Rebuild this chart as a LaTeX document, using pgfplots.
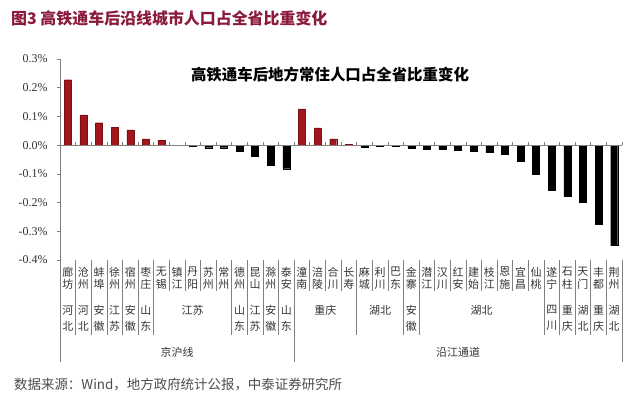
\documentclass[border=0pt]{standalone}
\usepackage{pgfplots}
\pgfplotsset{compat=1.18}
\usepackage{fontspec}
\setmainfont{Liberation Serif}
\newfontfamily\cjk{Noto Sans CJK SC}
\definecolor{barred}{HTML}{A3161E}
\definecolor{baredge}{HTML}{7A0F14}
\definecolor{headred}{HTML}{8B1A3C}
\definecolor{lblgray}{HTML}{333333}
\definecolor{axgray}{HTML}{808080}
\begin{document}
\begin{tikzpicture}
\path[use as bounding box] (0,0) rectangle (640bp,403bp);
\begin{axis}[
  at={(60bp,143bp)}, anchor=south west,
  scale only axis, width=562bp, height=201bp,
  xmin=0.5, xmax=36.5, ymin=-0.4, ymax=0.3,
  clip=false,
  axis x line=bottom, axis y line=left,
  x axis line style={draw=none},
  y axis line style={draw=axgray, line width=0.6bp, -},
  ytick={-0.4,-0.3,-0.2,-0.1,0,0.1,0.2,0.3},
  ytick style={draw=axgray, line width=0.6bp},
  xtick style={draw=none},
  tick align=outside, major tick length=3bp,
  /pgf/number format/assume math mode=true,
  yticklabel={\pgfmathprintnumber[fixed,fixed zerofill,precision=1]{\tick}\%},
  yticklabel style={font=\fontsize{12}{12}\selectfont, text=lblgray, xshift=-6bp},
  xtick={1,...,36},
  xticklabels={廊\\坊,沧\\州,蚌\\埠,徐\\州,宿\\州,枣\\庄,无\\锡,镇\\江,丹\\阳,苏\\州,常\\州,德\\州,昆\\山,滁\\州,泰\\安,潼\\南,涪\\陵,合\\川,长\\寿,麻\\城,利\\川,巴\\东,金\\寨,潜\\江,汉\\川,红\\安,建\\始,枝\\江,恩\\施,宜\\昌,仙\\桃,遂\\宁,石\\柱,天\\门,丰\\都,荆\\州},
  xticklabel style={font=\cjk\fontsize{11}{12.5}\selectfont, text=lblgray, align=center, anchor=north, inner sep=0pt, yshift=-4bp},
  ybar, bar width=7bp, bar shift=0pt,
]
\addplot[fill=barred, draw=baredge, line width=0.3bp] coordinates {
 (1,0.228) (2,0.105) (3,0.078) (4,0.062) (5,0.053) (6,0.022) (7,0.017) (8,0.000)
 (16,0.126) (17,0.060) (18,0.022) (19,0.002)};
\addplot[fill=black, draw=black, line width=0.3bp] coordinates {
 (9,-0.004) (10,-0.009) (11,-0.009) (12,-0.022) (13,-0.039) (14,-0.070) (15,-0.082)
 (20,-0.006) (21,-0.005) (22,-0.005) (23,-0.011) (24,-0.014) (25,-0.014) (26,-0.018)
 (27,-0.022) (28,-0.025) (29,-0.031) (30,-0.055) (31,-0.102) (32,-0.156) (33,-0.179)
 (34,-0.199) (35,-0.276) (36,-0.350)};
\end{axis}
\begin{scope}[x=15.61111bp, y=1bp, xshift=52.19444bp]
% zero line with boundary ticks
\draw[axgray, line width=0.6bp] (0.5,257.857) -- (36.5,257.857);
\foreach \b in {1.5,2.5,...,36.5} {\draw[axgray, line width=0.6bp] (\b,257.857) -- ++(0,3);}
% category table lines
\foreach \b in {7.5,8.5,9.5,10.5,16.5,17.5,18.5,20.5,21.5,24.5,25.5,26.5,27.5,28.5,29.5,30.5}
  {\draw[axgray, line width=0.6bp] (\b,143) -- ++(0,-31);}
\foreach \b in {1.5,2.5,3.5,4.5,5.5,6.5,11.5,12.5,13.5,14.5,19.5,22.5,23.5,31.5,32.5,33.5,34.5,35.5}
  {\draw[axgray, line width=0.6bp] (\b,143) -- ++(0,-75);}
\foreach \b in {0.5,15.5,36.5}
  {\draw[axgray, line width=0.6bp] (\b,143) -- ++(0,-102);}
% province labels (vertical)
\foreach \x/\p/\q in {1/河/北,2/河/北,3/安/徽,4/江/苏,5/安/徽,6/山/东,12/山/东,13/江/苏,14/安/徽,15/山/东,23/安/徽,32/四/川,33/重/庆,34/湖/北,35/重/庆,36/湖/北}
  {\node[font=\cjk\fontsize{11}{16}\selectfont, text=lblgray, inner sep=0pt, align=center] at (\x,85) {\p\\\q};}
% province labels (horizontal)
\foreach \x/\t in {9/江苏,17.5/重庆,21/湖北,27.5/湖北}
  {\node[font=\cjk\fontsize{11}{13}\selectfont, text=lblgray, inner sep=0pt] at (\x,93) {\t};}
% group labels
\node[font=\cjk\fontsize{11}{13}\selectfont, text=lblgray, inner sep=0pt] at (8,51) {京沪线};
\node[font=\cjk\fontsize{11}{13}\selectfont, text=lblgray, inner sep=0pt] at (26,51) {沿江通道};
\end{scope}
\node[font=\cjk\fontsize{15.5}{17}\selectfont\bfseries, inner sep=0pt] at (330bp,328bp) {高铁通车后地方常住人口占全省比重变化};
\node[font=\cjk\fontsize{16}{18}\selectfont\bfseries, text=headred, anchor=west, inner sep=0pt] at (11bp,385bp) {图3 高铁通车后沿线城市人口占全省比重变化};
\node[font=\cjk\fontsize{13.5}{15}\selectfont, text=black!70, anchor=west, inner sep=0pt] at (14bp,18bp) {数据来源：Wind，地方政府统计公报，中泰证券研究所};
\end{tikzpicture}
\end{document}
